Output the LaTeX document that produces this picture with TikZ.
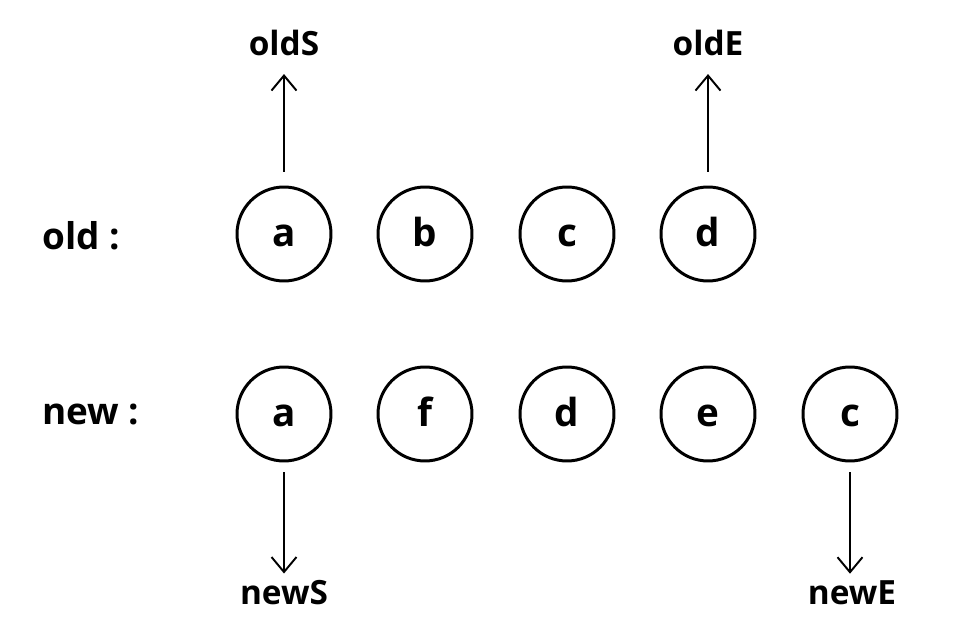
\documentclass[tikz,border=0pt]{standalone}
\usepackage{fontspec}
\setmainfont{Open Sans}
\usetikzlibrary{arrows.meta}
\usetikzlibrary{shapes}

\begin{document}
\begin{tikzpicture}[x=0.02cm,y=-0.02cm,line join=bevel,
  >={Straight Barb[length=0.3cm,width=0.5cm]},
  elem/.style={draw,circle,line width=1.7pt,minimum size=1.88cm,inner sep=0pt,text height=14.2pt,text depth=0pt,font=\fontsize{22}{24}\selectfont\bfseries},
  ptr/.style={draw=none,font=\fontsize{19}{22}\selectfont\bfseries},
  row/.style={draw=none,anchor=west,font=\fontsize{21}{24}\selectfont\bfseries},
  ]
\useasboundingbox (0,0) rectangle (974,638);
%%
\node (row_old) at (36,236) [row] {old :};
  \node (row_new) at (36,414) [row] {new :};
  \node (old_a) at (284,234) [elem] {a};
  \node (old_b) at (425,234) [elem] {b};
  \node (old_c) at (567,234) [elem] {c};
  \node (old_d) at (708,234) [elem] {d};
  \node (new_a) at (284,414) [elem] {a};
  \node (new_f) at (425,414) [elem] {f};
  \node (new_d) at (567,414) [elem] {d};
  \node (new_e) at (708,414) [elem] {e};
  \node (new_c) at (850,414) [elem] {c};
  \node (ptr_oldS) at (284,43) [ptr] {oldS};
  \node (ptr_oldE) at (708,43) [ptr] {oldE};
  \node (ptr_newS) at (284,593) [ptr] {newS};
  \node (ptr_newE) at (852,593) [ptr] {newE};
  \draw [black,->,line width=1.1pt,shorten <=0.28cm,shorten >=0.24cm] (old_a) -- (ptr_oldS);
  \draw [black,->,line width=1.1pt,shorten <=0.28cm,shorten >=0.24cm] (old_d) -- (ptr_oldE);
  \draw [black,->,line width=1.1pt,shorten <=0.2cm,shorten >=0.02cm] (new_a) -- (ptr_newS);
  \draw [black,->,line width=1.1pt,shorten <=0.2cm,shorten >=0.02cm] (new_c.south) -- (ptr_newE.north -| new_c.south);
%
\end{tikzpicture}
\end{document}
